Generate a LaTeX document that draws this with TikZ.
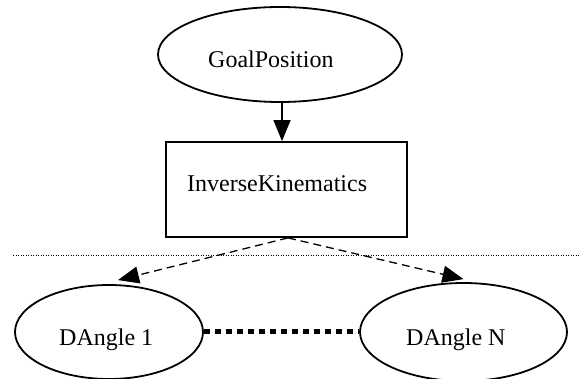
\documentclass[tikz,border=0pt]{standalone}
\usepackage{fontspec}
\setmainfont{Liberation Serif}
\usetikzlibrary{shapes.geometric}
\usetikzlibrary{arrows.meta}

\tikzset{
    oval/.style = {draw, ellipse, line width=1.8pt, inner sep=0pt},
    procbox/.style = {draw, rectangle, line width=1.8pt, inner sep=0pt},
    lbl/.style = {inner sep=0pt, anchor=base west},
    flow/.style = {line width=1.3pt, -{Triangle[length=21pt,width=17pt]}},
}

\begin{document}
\begin{tikzpicture}[x=1pt, y=1pt, font=\fontsize{24}{28}\selectfont]
                \useasboundingbox (0,0) rectangle (581,-379);
                \node[oval, minimum width=244pt, minimum height=95pt] (goal) at (280,-54.5) {};
                \node[procbox, minimum width=241pt, minimum height=95pt] (ik) at (286.5,-189.5) {};
                \node[oval, minimum width=188pt, minimum height=94pt] (d1) at (109,-332) {};
                \node[oval, minimum width=207pt, minimum height=98pt] (dn) at (463.5,-332) {};
                \node[lbl] (goaltext) at (208,-68) {GoalPosition};
                \node[lbl] (iktext) at (187,-192) {InverseKinematics};
                \node[lbl] (d1text) at (59,-345) {DAngle 1};
                \node[lbl] (dntext) at (406,-345) {DAngle N};
                \coordinate (sepL) at (13,-255);
                \coordinate (sepR) at (581,-255);
                % connectors
                \draw[flow] ([xshift=2pt]goal.south) -- ([xshift=2pt]goal.south |- ik.north);
                \draw[flow, dash pattern=on 8pt off 5pt] ([xshift=1.5pt]ik.south) -- ([xshift=9pt,yshift=4pt]d1.north);
                \draw[flow, dash pattern=on 8pt off 5pt] ([xshift=1.5pt]ik.south) -- ([yshift=3pt]dn.north);
                \draw[line width=5pt, dash pattern=on 6pt off 5pt] (d1.east) -- (dn.west);
                \draw[line width=0.8pt, dash pattern=on 1pt off 1.5pt] (sepL) -- (sepR);
\end{tikzpicture}
\end{document}
